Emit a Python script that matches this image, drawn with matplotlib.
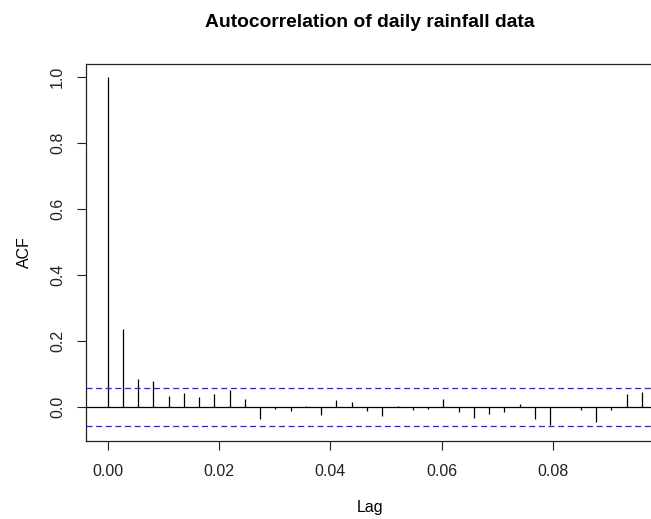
import numpy as np
import matplotlib.pyplot as plt

plt.rcParams['font.family'] = ['Liberation Sans', 'DejaVu Sans']

# acf of daily rainfall, lag in years (1/365 per day)
lag_days = np.arange(36)
acf_values = [1.0, 0.237, 0.086, 0.080, 0.034, 0.043, 0.031, 0.040, 0.053, 0.023,
              -0.035, -0.005, -0.012, 0.004, -0.023, 0.020, 0.014, -0.011, -0.026, 0.003,
              -0.008, -0.005, 0.023, -0.014, -0.032, -0.020, -0.014, 0.010, -0.035, -0.054,
              -0.001, -0.008, -0.044, -0.008, 0.040, 0.046]
conf_limit = 0.058
x_ticks = [0.00, 0.02, 0.04, 0.06, 0.08]
y_ticks = [0.0, 0.2, 0.4, 0.6, 0.8, 1.0]

lags = lag_days / 365.0

fig = plt.figure(figsize=(6.51, 5.19), dpi=100)
W, H = 651, 519
ax = fig.add_axes([86.5 / W, (H - 441) / H, (653 - 86.5) / W, (441 - 63.5) / H])

ax.vlines(lags, 0, acf_values, color='black', lw=0.9)
ax.axhline(0, color='black', lw=0.9)
dash = (0, (4.8, 2.9))
ax.axhline(conf_limit, color='#2020ff', lw=0.9, ls=dash)
ax.axhline(-conf_limit, color='#2020ff', lw=0.9, ls=dash)

ax.set_xlim(-0.00377, 0.0979)
ax.set_ylim(-0.103, 1.0415)
ax.set_xticks(x_ticks)
ax.set_xticklabels([f'{v:.2f}' for v in x_ticks])
ax.set_yticks(y_ticks)
ax.set_yticklabels([f'{v:.1f}' for v in y_ticks], rotation=90, va='center')
ax.tick_params(length=6.5, width=0.8, labelsize=11.5, pad=10, colors='#222222')
ax.tick_params(axis='y', pad=9)
for s in ax.spines.values():
    s.set_linewidth(0.9)
    s.set_color('#222222')

ax.set_xlabel('Lag', fontsize=11.5, labelpad=15)
ax.set_ylabel('ACF', fontsize=11.5, labelpad=13)
ax.set_title('Autocorrelation of daily rainfall data', fontsize=13.9,
             fontweight='bold', pad=26)

fig.savefig('out.png', dpi=100)
